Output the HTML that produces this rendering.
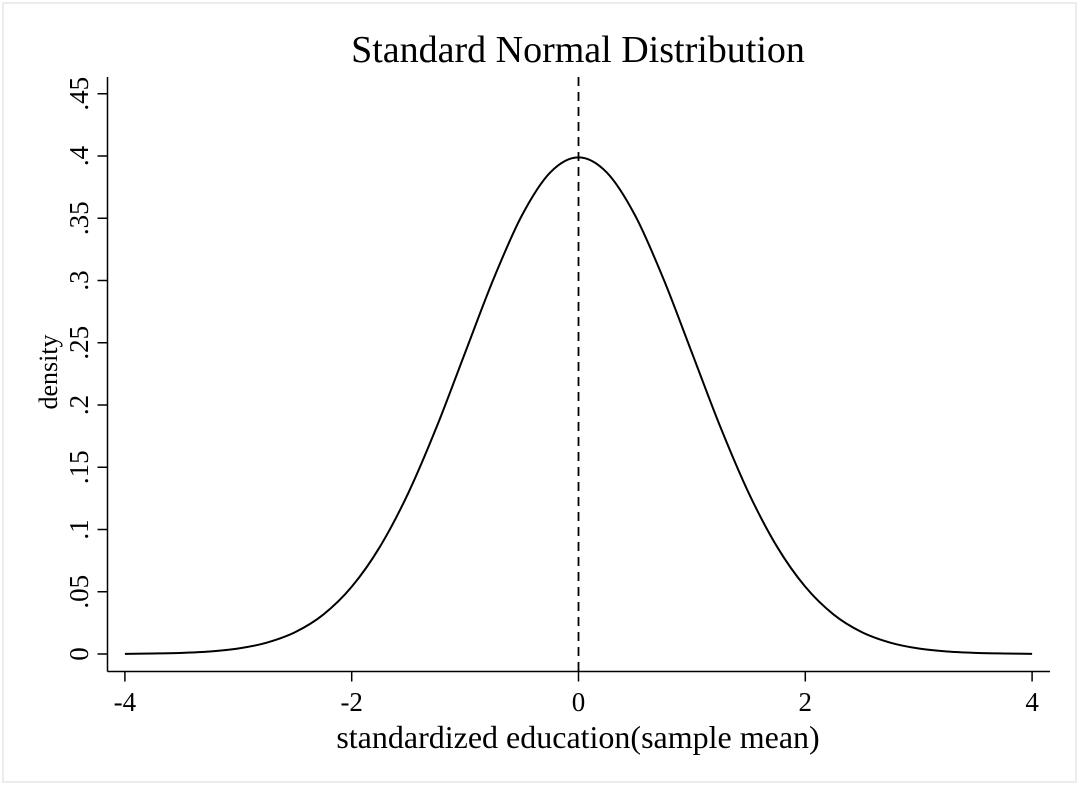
<!DOCTYPE html>
<html><head><meta charset="utf-8"><style>
html,body{margin:0;padding:0;background:#fff;}
svg{display:block;}
</style></head><body>
<svg id="chart" width="1079" height="785" xmlns="http://www.w3.org/2000/svg">
<rect x="3" y="3" width="1073" height="779" fill="#fff" stroke="#ececec" stroke-width="2"/>
<text x="578" y="62" font-family="Liberation Serif, serif" font-size="38" text-anchor="middle">Standard Normal Distribution</text>
<text x="578" y="748" font-family="Liberation Serif, serif" font-size="32" text-anchor="middle">standardized education(sample mean)</text>
<text transform="translate(57,372) rotate(-90)" font-family="Liberation Serif, serif" font-size="26" text-anchor="middle">density</text>
<g id="axes"></g>
<g id="marks"></g>
</svg>
<script>
const xTicks = [-4, -2, 0, 2, 4];
const yTicks = [0, 0.05, 0.1, 0.15, 0.2, 0.25, 0.3, 0.35, 0.4, 0.45];
const yTickLabels = ["0", ".05", ".1", ".15", ".2", ".25", ".3", ".35", ".4", ".45"];
const xValues = [-4,-3.75,-3.5,-3.25,-3,-2.75,-2.5,-2.25,-2,-1.75,-1.5,-1.25,-1,-0.75,-0.5,-0.25,0,0.25,0.5,0.75,1,1.25,1.5,1.75,2,2.25,2.5,2.75,3,3.25,3.5,3.75,4];
const densityValues = [0.0001,0.0004,0.0009,0.0020,0.0044,0.0091,0.0175,0.0317,0.0540,0.0863,0.1295,0.1826,0.2420,0.3011,0.3521,0.3867,0.3989,0.3867,0.3521,0.3011,0.2420,0.1826,0.1295,0.0863,0.0540,0.0317,0.0175,0.0091,0.0044,0.0020,0.0009,0.0004,0.0001];
const meanValue = 0;

const NS = "http://www.w3.org/2000/svg";
const xScale = v => 578.5 + v * 113.4;
const yScale = v => 654 - v * 1245;
const axisX = 107.5, axisY = 671.5, axisTop = 77;

function mk(tag, attrs, parent) {
  const e = document.createElementNS(NS, tag);
  for (const k in attrs) e.setAttribute(k, attrs[k]);
  parent.appendChild(e);
  return e;
}
const axes = document.getElementById('axes');
const marks = document.getElementById('marks');

let yl = mk('line', {x1: axisX, y1: axisTop, x2: axisX, y2: axisY, stroke: '#000', 'stroke-width': 1.5}, axes);


let xl = mk('line', {x1: axisX, y1: axisY, x2: 1050, y2: axisY, stroke: '#000', 'stroke-width': 1.5}, axes);



yTicks.forEach((t, i) => {
  const y = yScale(t);
  const tk = mk('line', {x1: axisX - 10, y1: y, x2: axisX, y2: y, stroke: '#000', 'stroke-width': 1.5}, axes);
  
  
  const tx = mk('text', {transform: `translate(88,${y}) rotate(-90)`, 'font-family': 'Liberation Serif, serif', 'font-size': 27, 'text-anchor': 'middle'}, axes);
  tx.textContent = yTickLabels[i];
  
  
});
xTicks.forEach(t => {
  const x = xScale(t);
  const tk = mk('line', {x1: x, y1: axisY, x2: x, y2: axisY + 10, stroke: '#000', 'stroke-width': 1.5}, axes);
  
  
  const tx = mk('text', {x: x, y: 711, 'font-family': 'Liberation Serif, serif', 'font-size': 27, 'text-anchor': 'middle'}, axes);
  tx.textContent = String(t);
  
  
});

const pts = xValues.map((v, i) => [xScale(v), yScale(densityValues[i])]);
let d = `M${pts[0][0]},${pts[0][1]}`;
for (let i = 0; i < pts.length - 1; i++) {
  const p0 = pts[Math.max(0, i - 1)], p1 = pts[i], p2 = pts[i + 1], p3 = pts[Math.min(pts.length - 1, i + 2)];
  const c1 = [p1[0] + (p2[0] - p0[0]) / 6, p1[1] + (p2[1] - p0[1]) / 6];
  const c2 = [p2[0] - (p3[0] - p1[0]) / 6, p2[1] - (p3[1] - p1[1]) / 6];
  d += ` C${c1[0]},${c1[1]} ${c2[0]},${c2[1]} ${p2[0]},${p2[1]}`;
}
const curve = mk('path', {d: d, fill: 'none', stroke: '#000', 'stroke-width': 2}, marks);



const ml = mk('line', {x1: xScale(meanValue), y1: axisTop, x2: xScale(meanValue), y2: axisY, stroke: '#000', 'stroke-width': 1.8, 'stroke-dasharray': '9,6'}, marks);


</script>
</body></html>
